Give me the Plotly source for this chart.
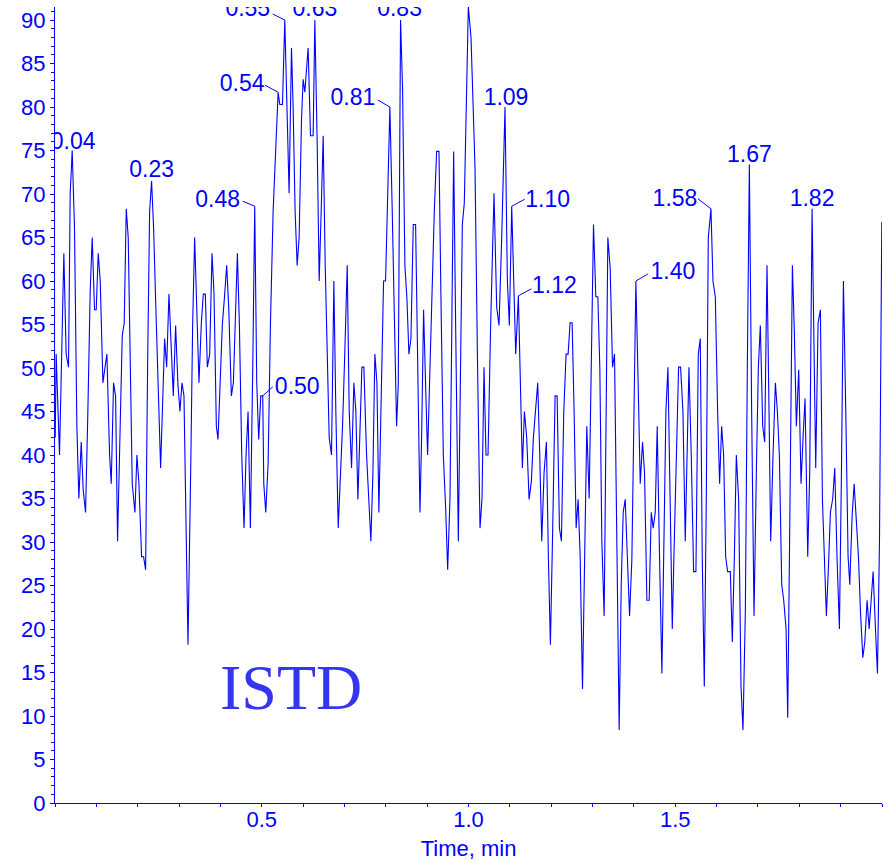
import plotly.graph_objects as go

BLUE = "#0000ff"

# ---- data: chromatogram trace (time in min, intensity) ----
time_min = [
    0.0005, 0.0028, 0.0109, 0.0214, 0.0270, 0.0327, 0.0367, 0.0416, 0.0472, 0.0529, 0.0577, 0.0634,
    0.0682, 0.0739, 0.0795, 0.0851, 0.0900, 0.0956, 0.0997, 0.1045, 0.1094, 0.1158, 0.1207, 0.1255,
    0.1320, 0.1360, 0.1416, 0.1465, 0.1513, 0.1570, 0.1626, 0.1674, 0.1723, 0.1771, 0.1820, 0.1868,
    0.1933, 0.1981, 0.2030, 0.2094, 0.2143, 0.2191, 0.2239, 0.2288, 0.2336, 0.2385, 0.2433,
    0.2554, 0.2651, 0.2700, 0.2756, 0.2813, 0.2861, 0.2917, 0.2974, 0.3022, 0.3071, 0.3119, 0.3168,
    0.3216, 0.3281, 0.3329, 0.3377, 0.3434, 0.3482, 0.3539, 0.3587, 0.3636, 0.3684, 0.3741, 0.3797,
    0.3846, 0.3902, 0.3942, 0.3991, 0.4047, 0.4096, 0.4152, 0.4201, 0.4265, 0.4314, 0.4362, 0.4411,
    0.4459, 0.4516, 0.4572, 0.4620, 0.4669, 0.4725, 0.4782, 0.4830, 0.4879, 0.4927, 0.4976, 0.5024,
    0.5049, 0.5097, 0.5154, 0.5210, 0.5275, 0.5339, 0.5396, 0.5436, 0.5501, 0.5557, 0.5614, 0.5662,
    0.5719, 0.5759, 0.5807, 0.5856, 0.5904, 0.5961, 0.6001, 0.6042, 0.6122, 0.6179, 0.6243, 0.6284,
    0.6340, 0.6389, 0.6437, 0.6486, 0.6534, 0.6582, 0.6631, 0.6687, 0.6744, 0.6792, 0.6849, 0.6897,
    0.6954, 0.7010, 0.7067, 0.7115, 0.7172, 0.7228, 0.7276, 0.7325, 0.7373, 0.7422, 0.7470, 0.7535,
    0.7639, 0.7688, 0.7736, 0.7785, 0.7833, 0.7898, 0.7946, 0.7994, 0.8043, 0.8099, 0.8156, 0.8204,
    0.8261, 0.8301, 0.8357, 0.8406, 0.8462, 0.8511, 0.8559, 0.8608, 0.8664, 0.8721, 0.8769, 0.8826,
    0.8866, 0.8914, 0.8963, 0.9011, 0.9068, 0.9124, 0.9173, 0.9229, 0.9286, 0.9334, 0.9391, 0.9447,
    0.9496, 0.9552, 0.9592, 0.9641, 0.9689, 0.9754, 0.9802, 0.9851, 0.9899, 0.9948, 0.9996, 1.0061,
    1.0117,
    1.0157, 1.0214, 1.0278, 1.0327, 1.0375, 1.0423, 1.0472, 1.0536, 1.0617, 1.0682, 1.0738, 1.0803,
    1.0883, 1.0940, 1.0988, 1.1045, 1.1101, 1.1142, 1.1206, 1.1255, 1.1303, 1.1352, 1.1408, 1.1465,
    1.1521, 1.1569, 1.1626, 1.1674, 1.1723, 1.1771, 1.1828, 1.1884, 1.1933, 1.1981, 1.2038, 1.2094,
    1.2143, 1.2199, 1.2247, 1.2304, 1.2360, 1.2409, 1.2457, 1.2506, 1.2554, 1.2603, 1.2651, 1.2699,
    1.2757, 1.2805, 1.2861, 1.2918, 1.2966, 1.3023, 1.3079, 1.3128, 1.3176, 1.3225, 1.3281, 1.3322,
    1.3370, 1.3426, 1.3483, 1.3531, 1.3588, 1.3644, 1.3693, 1.3741, 1.3790, 1.3846, 1.3895, 1.3951,
    1.3999, 1.4048, 1.4104, 1.4153, 1.4209, 1.4257, 1.4314, 1.4370, 1.4419, 1.4467, 1.4516, 1.4564,
    1.4621, 1.4677, 1.4726, 1.4774, 1.4823, 1.4879, 1.4928, 1.4976, 1.5033, 1.5081, 1.5129,
    1.5186, 1.5242, 1.5282, 1.5331, 1.5387, 1.5444, 1.5500, 1.5557, 1.5605, 1.5654, 1.5702, 1.5751,
    1.5799, 1.5864, 1.5912, 1.5969, 1.6025, 1.6073, 1.6122, 1.6170, 1.6219, 1.6267, 1.6332, 1.6380,
    1.6428, 1.6477, 1.6533, 1.6590, 1.6638, 1.6695, 1.6743, 1.6792, 1.6848, 1.6905, 1.6961, 1.7010,
    1.7058, 1.7115, 1.7163, 1.7219, 1.7268, 1.7308, 1.7365, 1.7421, 1.7470, 1.7518, 1.7575, 1.7623,
    1.7680, 1.7720,
    1.7776, 1.7833, 1.7881, 1.7929, 1.7986, 1.8042, 1.8091, 1.8139, 1.8204, 1.8252, 1.8309, 1.8357,
    1.8397, 1.8454, 1.8510, 1.8559, 1.8607, 1.8655, 1.8712, 1.8752, 1.8809, 1.8857, 1.8914, 1.8970,
    1.9019, 1.9067, 1.9124, 1.9180, 1.9221, 1.9277, 1.9326, 1.9382, 1.9431, 1.9479, 1.9536, 1.9584,
    1.9640, 1.9689, 1.9737, 1.9786, 1.9842, 1.9890, 1.9939, 1.9995,
]

intensity = [
    42, 51.6, 40, 63.2, 51.6, 50.1, 70, 75, 66, 43.3, 35, 41.5,
    36, 33.4, 45, 58.8, 65, 56.7, 56.7, 63.2, 60, 48.3, 50, 51.6,
    40, 36.7, 48.3, 46.8, 30.1, 42, 53.7, 55.2, 68.3, 65, 50, 36.7,
    33.4, 40, 36.7, 28.3, 28.3, 26.8, 50, 68, 71.5, 66, 58,
    38.5, 53.4, 50.1, 58.5, 52, 46.8, 54.9, 48, 45, 48.3, 46.8, 32,
    18.2, 38, 55, 65, 55, 48.3, 55.2, 58.5, 58.5, 50.1, 51.6, 63.2,
    58.5, 43.3, 41.8, 48, 55, 58, 61.8, 57, 46.8, 48.3, 56, 63.2,
    55, 40, 31.6, 40, 45, 31.6, 50, 68.6, 48.3, 41.8, 46.8, 46.8,
    36.7, 33.4, 39, 55, 68, 76, 81.7, 80.3, 80.3, 90, 78, 70.1,
    86.8, 80, 68, 61.8, 65, 78.5, 83.2, 81.7, 86.8, 76.7, 76.7, 90,
    76, 60, 68, 76.7, 62, 50, 42, 40, 60, 45, 31.6, 37,
    43.3, 52, 61.8, 45, 38.5, 48.3, 45, 34.9, 42, 50.1, 50.1, 40,
    30.1, 38, 51.6, 48.3, 33.4, 48, 60, 60, 70, 80, 68, 55,
    43.3, 48, 90, 82, 61.8, 58, 51.6, 53.4, 66.5, 66.5, 50, 33.4,
    42, 56.7, 48, 40, 50, 60, 68, 74.9, 74.9, 58, 40, 34,
    26.8, 35, 50, 74.9, 55, 30.1, 48, 66.5, 69, 82, 91.6, 88,
    78.5,
    73.1, 52, 31.6, 35, 50.1, 40, 40, 55, 70.1, 57, 54.9, 65,
    80, 60, 54.9, 68.6, 58, 51.6, 58.3, 48, 38.5, 45, 42, 34.9,
    37, 42, 45, 48.3, 40, 30.1, 38, 41.5, 28, 18.2, 32, 46.8,
    46.8, 31.6, 30.1, 45, 51.6, 51.6, 55.2, 55.2, 45, 31.6, 34.9, 28.6,
    13.1, 28, 43.3, 35, 50, 66.5, 58.2, 58.2, 50, 30, 21.5, 45,
    65, 61.5, 50.1, 51.6, 30, 8.4, 25, 33.4, 34.9, 28, 21.5, 28,
    45, 60, 48, 36.7, 41.5, 38, 23.3, 23.3, 33.4, 31.6, 33.4, 43.3,
    28, 14.9, 30, 45, 50.1, 33, 20, 30, 40, 50.1, 50.1,
    45, 30.1, 40, 50.1, 40, 26.6, 26.6, 51.6, 53.4, 28, 13.4, 35,
    65, 68.3, 60, 58.2, 45, 36.7, 43.3, 40, 28.3, 26.6, 26.6, 18.5,
    28, 40, 34.9, 13.4, 8.4, 22, 50, 73.4, 45, 21.5, 38, 50.1,
    54.9, 43.3, 41.5, 61.8, 45, 30.1, 40, 48.3, 45, 40, 25.1, 23.3,
    20, 9.8,
    35, 61.8, 54, 43.3, 49.8, 36.7, 42, 46.5, 28.3, 38, 68.3, 52,
    38.5, 55.2, 56.7, 34.9, 27, 21.5, 28, 33.4, 35, 38.5, 28, 20,
    38, 60, 45, 28.3, 25.1, 33, 36.7, 32, 28.3, 22, 16.7, 18.5,
    23.3, 20, 23.3, 26.6, 20, 14.9, 30, 66.8,
]

assert len(time_min) == len(intensity)

# ---- peak labels ----
peak_labels = ["0.04", "0.23", "0.48", "0.50", "0.54", "0.55", "0.63", "0.81",
               "0.83", "1.09", "1.10", "1.12", "1.40", "1.58", "1.67", "1.82"]
peak_times = [0.0416, 0.2336, 0.4830, 0.5024, 0.5396, 0.5557, 0.6284, 0.8099,
              0.8357, 1.0883, 1.1045, 1.1206, 1.4048, 1.5864, 1.6792, 1.8309]
peak_heights = [75, 71.5, 68.6, 46.8, 81.7, 90, 90, 80,
                90, 80, 68.6, 58.3, 60, 68.3, 73.4, 68.3]

x_tick_vals = [0.5, 1.0, 1.5]
x_tick_text = ["0.5", "1.0", "1.5"]
x_title = "Time, min"
compound_name = "ISTD"

# ---- layout geometry (style) ----
W, H = 883, 861
M_L, M_R, M_T, M_B = 55, 1, 7, 58
X_RANGE = [0, 2.0]
Y_RANGE = [0, 91.5]
px_per_x = (W - M_L - M_R) / (X_RANGE[1] - X_RANGE[0])
px_per_y = (H - M_T - M_B) / (Y_RANGE[1] - Y_RANGE[0])
LABEL_DROP = 2  # px correction for text vertical centring

# label centre offset from peak top (px, +down) and optional leader tail (px)
label_style = {
    "0.04": ((1, -9.5), None), "0.23": ((0, -12), None),
    "0.48": ((-37, -7), (-12, -5)), "0.50": ((34.5, -10), (10, -9)),
    "0.54": ((-36, -9), (-13, -7)), "0.55": ((-37, -11.5), (-12, -6)),
    "0.63": ((0, -11.5), None), "0.81": ((-37, -10), (-12, -7)),
    "0.83": ((-1, -11.5), None), "1.09": ((1, -10), None),
    "1.10": ((36, -7), (13, -7)), "1.12": ((36, -11), (13, -7)),
    "1.40": ((37, -10), (12, -7)), "1.58": ((-36, -11), (-13, -10)),
    "1.67": ((0, -10), None), "1.82": ((0, -11), None),
}

lab_x, lab_y, shapes = [], [], []
for lab, t, h in zip(peak_labels, peak_times, peak_heights):
    (dx, dy), tail = label_style[lab]
    lab_x.append(t + dx / px_per_x)
    lab_y.append(h - (dy + LABEL_DROP) / px_per_y)
    if tail is not None:
        shapes.append(dict(type="line", xref="x", yref="y", x0=t, y0=h,
                           x1=t + tail[0] / px_per_x, y1=h - tail[1] / px_per_y,
                           line=dict(color=BLUE, width=1)))

fig = go.Figure()
fig.add_trace(go.Scatter(x=time_min, y=intensity, mode="lines",
                         line=dict(color=BLUE, width=1.1), hoverinfo="skip"))
fig.add_trace(go.Scatter(x=lab_x, y=lab_y, mode="text", text=peak_labels,
                         textposition="middle center", cliponaxis=True,
                         textfont=dict(family="Liberation Sans", size=23, color=BLUE),
                         hoverinfo="skip"))

annotations = [dict(
    x=0.2854, y=0.1445, xref="paper", yref="paper", text=compound_name,
    showarrow=False, xanchor="center", yanchor="middle",
    font=dict(family="Liberation Serif", size=64, color="#3535ef"),
)]

fig.update_layout(
    width=W, height=H,
    margin=dict(l=M_L, r=M_R, t=M_T, b=M_B),
    plot_bgcolor="white", paper_bgcolor="white",
    showlegend=False,
    annotations=annotations,
    shapes=shapes,
    xaxis=dict(
        range=X_RANGE, tickmode="array", tickvals=x_tick_vals, ticktext=x_tick_text,
        ticks="outside", ticklen=3, tickcolor=BLUE, tickwidth=1,
        showline=True, linecolor=BLUE, linewidth=1,
        showgrid=False, zeroline=False,
        tickfont=dict(family="Liberation Sans", size=22, color=BLUE),
        ticklabelstandoff=-6,
        title=dict(text=x_title, font=dict(family="Liberation Sans", size=22, color=BLUE),
                   standoff=9),
        minor=dict(tickmode="linear", tick0=0, dtick=0.1, ticks="outside",
                   ticklen=3, tickcolor=BLUE, showgrid=False),
    ),
    yaxis=dict(
        range=Y_RANGE, tickmode="linear", tick0=0, dtick=5,
        ticks="outside", ticklen=4, tickcolor=BLUE, tickwidth=1,
        showline=True, linecolor=BLUE, linewidth=1,
        showgrid=False, zeroline=False,
        tickfont=dict(family="Liberation Sans", size=22, color=BLUE),
        minor=dict(tickmode="linear", tick0=0, dtick=1, ticks="outside",
                   ticklen=3, tickcolor=BLUE, showgrid=False),
    ),
)

fig.write_html("out.html")
